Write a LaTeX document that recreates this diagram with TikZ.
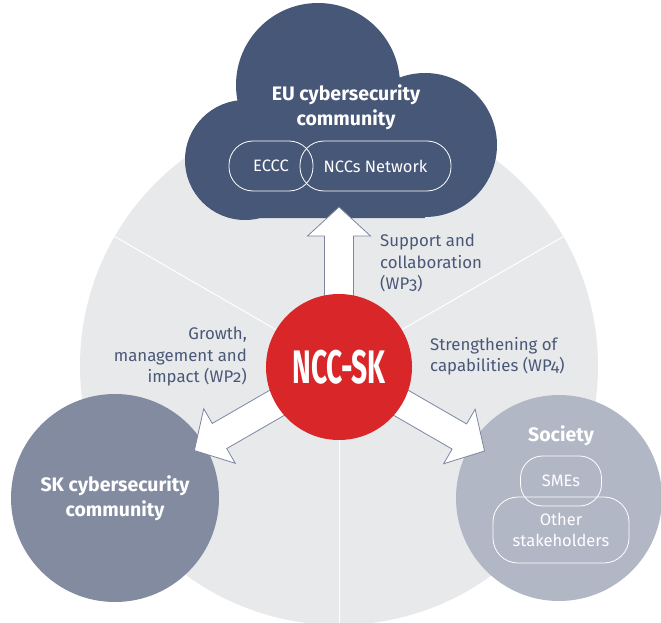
\documentclass[tikz,border=0pt]{standalone}
\usepackage{fontspec}
\setmainfont[Numbers=OldStyle]{Fira Sans}
\newfontfamily\nccfont[FakeStretch=0.6]{Fira Sans}
\usetikzlibrary{positioning,calc}
\definecolor{bgcol}{HTML}{E8E9EB}
\definecolor{cloudcol}{HTML}{475777}
\definecolor{skcol}{HTML}{838BA0}
\definecolor{soccol}{HTML}{B2B7C5}
\definecolor{nccred}{HTML}{D92629}
\definecolor{txtcol}{HTML}{4A5878}
\definecolor{arrowline}{HTML}{7C86A0}

\begin{document}
\begin{tikzpicture}[x=1pt,y=-1pt,
  lbl/.style={text=txtcol,font=\fontsize{16.8}{21.5}\selectfont,inner sep=0pt},
  hub/.style={circle,fill=#1,inner sep=0pt,text=white,align=center,
    font=\bfseries\fontsize{19.5}{25}\selectfont},
  pill/.style={draw=white,line width=0.8pt,rounded corners=24pt,text=white,
    align=center,inner sep=0pt,font=\fontsize{16.5}{21}\selectfont},
  bigarrow/.style={fill=white,draw=arrowline,line width=0.8pt,line join=miter}]

\useasboundingbox (0,0) rectangle (661,623);

% background disc with three sectors
\node[circle,fill=bgcol,minimum size=518pt,inner sep=0pt] (bg) at (339,366) {};
\foreach \a in {30,150,270}
  \draw[white,line width=1pt] (bg.center) -- (bg.\a);

% EU cloud
\fill[cloudcol] (245,160) circle (60pt) (318,85) circle (82pt)
  (425,145) circle (72pt) (245,150) rectangle (425,218);
\node[text=white,align=center,font=\bfseries\fontsize{19.5}{25}\selectfont]
  (eu) at (346,107) {EU cybersecurity\\community};
\node[pill,minimum width=84pt,minimum height=50pt] (eccc) at (271,166) {ECCC};
\node[pill,minimum width=151pt,minimum height=50pt] (nccs) at (375.5,166) {NCCs Network};

% the two communities
\node[hub=skcol,minimum size=208pt] (sk) at (115,498) {SK cybersecurity\\community};
\node[hub=soccol,minimum size=206pt] (soc) at (559,498) {};
\node[text=white,font=\bfseries\fontsize{19.5}{25}\selectfont] (socl) at (561,436) {Society};
\node[pill,rounded corners=22pt,minimum width=81pt,minimum height=50pt] (smes) at (561,481) {SMEs};
\node[pill,rounded corners=25pt,minimum width=136pt,minimum height=66pt] (other) at (561,530) {Other\\stakeholders};

% fat arrows from the hub
\coordinate (c) at (339,367);
\foreach \ang/\len in {90/160,210/167,330/168}{
  \begin{scope}[shift={(c)},rotate=\ang]
    \draw[bigarrow] (0,-14.5) -- (\len-29,-14.5) -- (\len-29,-31.5) -- (\len,0)
      -- (\len-29,31.5) -- (\len-29,14.5) -- (0,14.5);
  \end{scope}
}

\node[circle,fill=nccred,minimum size=146pt,inner sep=0pt,text=white,
  font=\nccfont\bfseries\fontsize{47}{47}\selectfont] (ncc) at (c) {NCC-SK};

% arrow labels
\node[lbl,anchor=north west,align=left] (wp3) at (380,234) {Support and\\collaboration\\(WP3)};
\node[lbl,anchor=north east,align=right] (wp2) at (247,327) {Growth,\\management and\\impact (WP2)};
\node[lbl,anchor=north west,align=left] (wp4) at (430,337) {Strengthening of\\capabilities (WP4)};
\end{tikzpicture}
\end{document}
